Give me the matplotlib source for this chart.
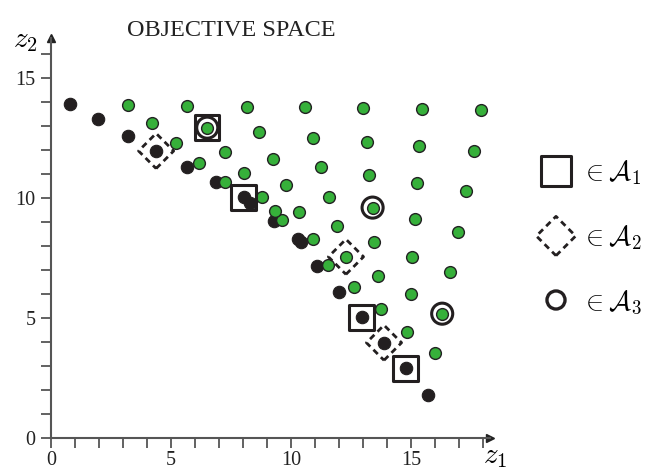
import matplotlib
matplotlib.use("Agg")
import matplotlib.pyplot as plt

# ---------------- data ----------------
black_x = [0.79, 1.96, 3.21, 4.38, 5.65, 6.86, 8.03, 8.28, 9.28, 10.30, 10.40,
           11.07, 12.00, 12.94, 13.875, 14.78, 15.69]
black_y = [13.92, 13.29, 12.58, 11.96, 11.28, 10.68, 10.03, 9.78, 9.05, 8.30, 8.15,
           7.18, 6.10, 5.03, 3.97, 2.90, 1.79]

green_x = [3.19, 4.19, 5.21, 6.17, 7.25,
           5.65, 6.51, 7.25, 8.04, 8.78, 9.61, 9.33,
           8.15, 8.68, 9.24, 9.80, 10.33, 10.93, 11.53,
           10.58, 10.90, 11.24, 11.58, 11.92, 12.29, 12.63,
           13.01, 13.17, 13.24, 13.40, 13.47, 13.61, 13.74,
           15.47, 15.35, 15.24, 15.17, 15.05, 14.98, 14.84,
           17.92, 17.61, 17.28, 16.95, 16.62, 16.30, 16.00]
green_y = [13.88, 13.11, 12.31, 11.45, 10.68,
           13.83, 12.93, 11.93, 11.03, 10.06, 9.08, 9.46,
           13.78, 12.74, 11.63, 10.54, 9.43, 8.29, 7.21,
           13.80, 12.51, 11.29, 10.03, 8.83, 7.55, 6.28,
           13.76, 12.32, 10.96, 9.60, 8.18, 6.76, 5.38,
           13.72, 12.18, 10.61, 9.11, 7.53, 5.99, 4.43,
           13.65, 11.96, 10.30, 8.60, 6.90, 5.18, 3.53]

# archive sets
A1_x = [6.51, 8.03, 12.94, 14.78]
A1_y = [12.93, 10.03, 5.03, 2.90]
A2_x = [4.38, 12.29, 13.875]
A2_y = [11.96, 7.55, 3.97]
A3_x = [6.51, 13.40, 16.30]
A3_y = [12.93, 9.60, 5.18]

x_major = [0, 5, 10, 15]
y_major = [0, 5, 10, 15]
legend_labels = [r"$\in\mathcal{A}_1$", r"$\in\mathcal{A}_2$", r"$\in\mathcal{A}_3$"]
title = "OBJECTIVE SPACE"

# ---------------- figure ----------------
W, H = 645, 473
fig = plt.figure(figsize=(W / 100, H / 100), dpi=100)
plt.rcParams['mathtext.fontset'] = 'cm'
serif = ['Liberation Serif', 'DejaVu Serif']

xmax, ymax = 18.29, 16.65
unit = 24.0
x0px, y0px = 51, 35
ax = fig.add_axes([x0px / W, y0px / H, xmax * unit / W, ymax * unit / H])
ax.set_xlim(0, xmax)
ax.set_ylim(0, ymax)

axc = '#555555'
for s in ['top', 'right']:
    ax.spines[s].set_visible(False)
for s in ['left', 'bottom']:
    ax.spines[s].set_color(axc)
    ax.spines[s].set_linewidth(1.5)

ax.set_xticks(x_major)
ax.set_yticks(y_major)
ax.set_xticks(range(0, 19), minor=True)
ax.set_yticks(range(0, 17), minor=True)
ax.tick_params(which='both', direction='out', color=axc, width=1.3, length=7.5)
ax.tick_params(labelsize=14.5, labelcolor='#222222')
ax.tick_params(axis='x', pad=2)
for lab in ax.get_xticklabels() + ax.get_yticklabels():
    lab.set_fontfamily(serif)

# arrowheads
ax.plot([1], [0], marker='>', color='#222222', markersize=6, transform=ax.transAxes, clip_on=False)
ax.plot([0], [1], marker='^', color='#222222', markersize=6, transform=ax.transAxes, clip_on=False)

# points
ax.scatter(black_x, black_y, s=80, c='#231f20', edgecolors='#231f20', linewidths=0.8, zorder=3, clip_on=False)
ax.scatter(green_x, green_y, s=72, c='#36b03a', edgecolors='#222222', linewidths=1.0, zorder=4, clip_on=False)

# archive markers
dash = (0, (2.2, 1.6))
ax.scatter(A1_x, A1_y, s=310, marker='s', facecolors='none', edgecolors='#231f20', linewidths=2.2, zorder=5, clip_on=False)
ax.scatter(A2_x, A2_y, s=320, marker='D', facecolors='none', edgecolors='#231f20', linewidths=2.0,
           linestyles=dash, zorder=5, clip_on=False)
ax.scatter(A3_x, A3_y, s=230, marker='o', facecolors='none', edgecolors='#231f20', linewidths=2.2, zorder=5, clip_on=False)

# axis labels
fig.text(483 / W, 1 - 456 / H, r"$z_1$", fontsize=21, ha='left', va='center')
fig.text(13 / W, 1 - 40 / H, r"$z_2$", fontsize=21, ha='left', va='center')

# title
fig.text(231 / W, 1 - 30 / H, title, fontsize=17.5, family=serif, ha='center', va='center', color='#222222')

# legend (manual)
leg_y = [171, 236, 300]
leg_markers = [('s', 22, 2.2, '-'), ('D', 20, 2.0, '--'), ('o', 13, 2.4, '-')]
ax_l = fig.add_axes([0, 0, 1, 1], facecolor='none')
ax_l.set_axis_off()
ax_l.set_xlim(0, W)
ax_l.set_ylim(H, 0)
for (m, ms, lw, ls), yy, lab in zip(leg_markers, leg_y, legend_labels):
    ax_l.scatter([556], [yy], s=ms ** 2, marker=m, facecolors='none', edgecolors='#231f20',
                 linewidths=lw, linestyles='-' if ls == '-' else dash)
    fig.text(581 / W, 1 - (yy + 2) / H, lab, fontsize=19.5, ha='left', va='center')

fig.savefig("out.png", dpi=100)
